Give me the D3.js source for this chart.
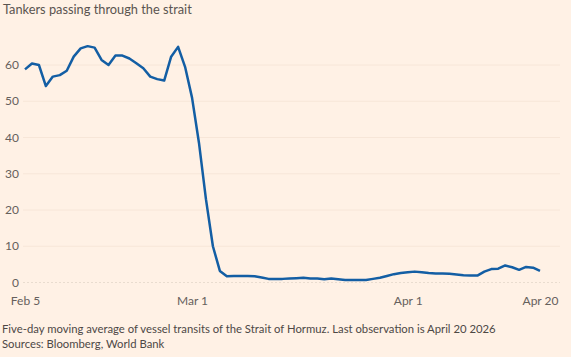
<!DOCTYPE html>
<html>
<head>
<meta charset="utf-8">
<script src="https://cdn.jsdelivr.net/npm/d3@7"></script>
<style>
html,body{margin:0;padding:0;background:#FFF1E5;}
svg{display:block;font-family:Lato,"Open Sans",sans-serif;}
</style>
</head>
<body>
<svg id="chart" width="571" height="357"></svg>
<script>
const startDate = "2026-02-05";
const values = [
  58.8, 60.4, 60.0, 54.2, 56.8, 57.2, 58.4, 62.3, 64.6, 65.2,
  64.8, 61.4, 60.0, 62.6, 62.6, 61.8, 60.5, 59.1, 56.8, 56.1,
  55.7, 62.3, 65.0, 59.5, 51.0, 38.5, 23.0, 10.0, 3.2, 1.7,
  1.8, 1.8, 1.8, 1.7, 1.4, 1.0, 1.0, 1.0, 1.1, 1.2,
  1.3, 1.1, 1.1, 0.9, 1.1, 0.9, 0.7, 0.7, 0.7, 0.7,
  1.0, 1.3, 1.8, 2.3, 2.6, 2.8, 3.0, 2.8, 2.6, 2.5,
  2.5, 2.4, 2.2, 2.0, 1.9, 1.9, 3.0, 3.7, 3.8, 4.7,
  4.2, 3.5, 4.3, 4.1, 3.2
];
const yTicks = [0, 10, 20, 30, 40, 50, 60];
const xTickDates = ["2026-02-05", "2026-03-01", "2026-04-01", "2026-04-20"];
const xTickLabels = ["Feb 5", "Mar 1", "Apr 1", "Apr 20"];
const title = "Tankers passing through the strait";
const note = "Five-day moving average of vessel transits of the Strait of Hormuz. Last observation is April 20 2026";
const source = "Sources: Bloomberg, World Bank";

const parse = d3.utcParse("%Y-%m-%d");
const t0 = parse(startDate);
const data = values.map((v, i) => ({date: d3.utcDay.offset(t0, i), value: v}));

const svg = d3.select("#chart");
const x = d3.scaleUtc().domain([t0, parse("2026-04-20")]).range([25, 540]);
const y = d3.scaleLinear().domain([0, 60]).range([282.5, 65]);

// gridlines
svg.append("g").selectAll("line").data(yTicks).join("line")
  .attr("x1", 23).attr("x2", 560)
  .attr("y1", d => y(d)).attr("y2", d => y(d))
  .attr("stroke", d => d === 0 ? "#e9dccf" : "#f7e6d8")
  .attr("stroke-width", 1)
  .attr("stroke-dasharray", d => d === 0 ? "2,2" : null);

// y labels
svg.append("g").selectAll("text").data(yTicks).join("text")
  .attr("x", 19).attr("y", d => y(d)).attr("dy", "0.35em")
  .attr("text-anchor", "end")
  .attr("font-size", 12).attr("fill", "#66605c")
  .text(d => d);

// x axis
const xAxis = d3.axisBottom(x)
  .tickValues(xTickDates.map(parse))
  .tickFormat((d, i) => xTickLabels[i])
  .tickSize(0).tickPadding(0);
const gx = svg.append("g").attr("transform", "translate(0,296)").call(xAxis);
gx.select(".domain").remove();
gx.selectAll("text").attr("font-size", 12).attr("fill", "#66605c")
  .attr("font-family", "Lato,'Open Sans',sans-serif");

// line
svg.append("path").datum(data)
  .attr("fill", "none")
  .attr("stroke", "#135ea4")
  .attr("stroke-width", 2.5)
  .attr("stroke-linejoin", "round")
  .attr("d", d3.line().x(d => x(d.date)).y(d => y(d.value)));

// title
svg.append("text").attr("x", 3).attr("y", 14)
  .attr("font-size", 12.8).attr("fill", "#5a5450").text(title);

svg.append("text").attr("x", 2).attr("y", 333)
  .attr("font-size", 11.3).attr("fill", "#4d4845").text(note);
svg.append("text").attr("x", 2).attr("y", 348)
  .attr("font-size", 11.3).attr("fill", "#4d4845").text(source);
</script>
</body>
</html>
